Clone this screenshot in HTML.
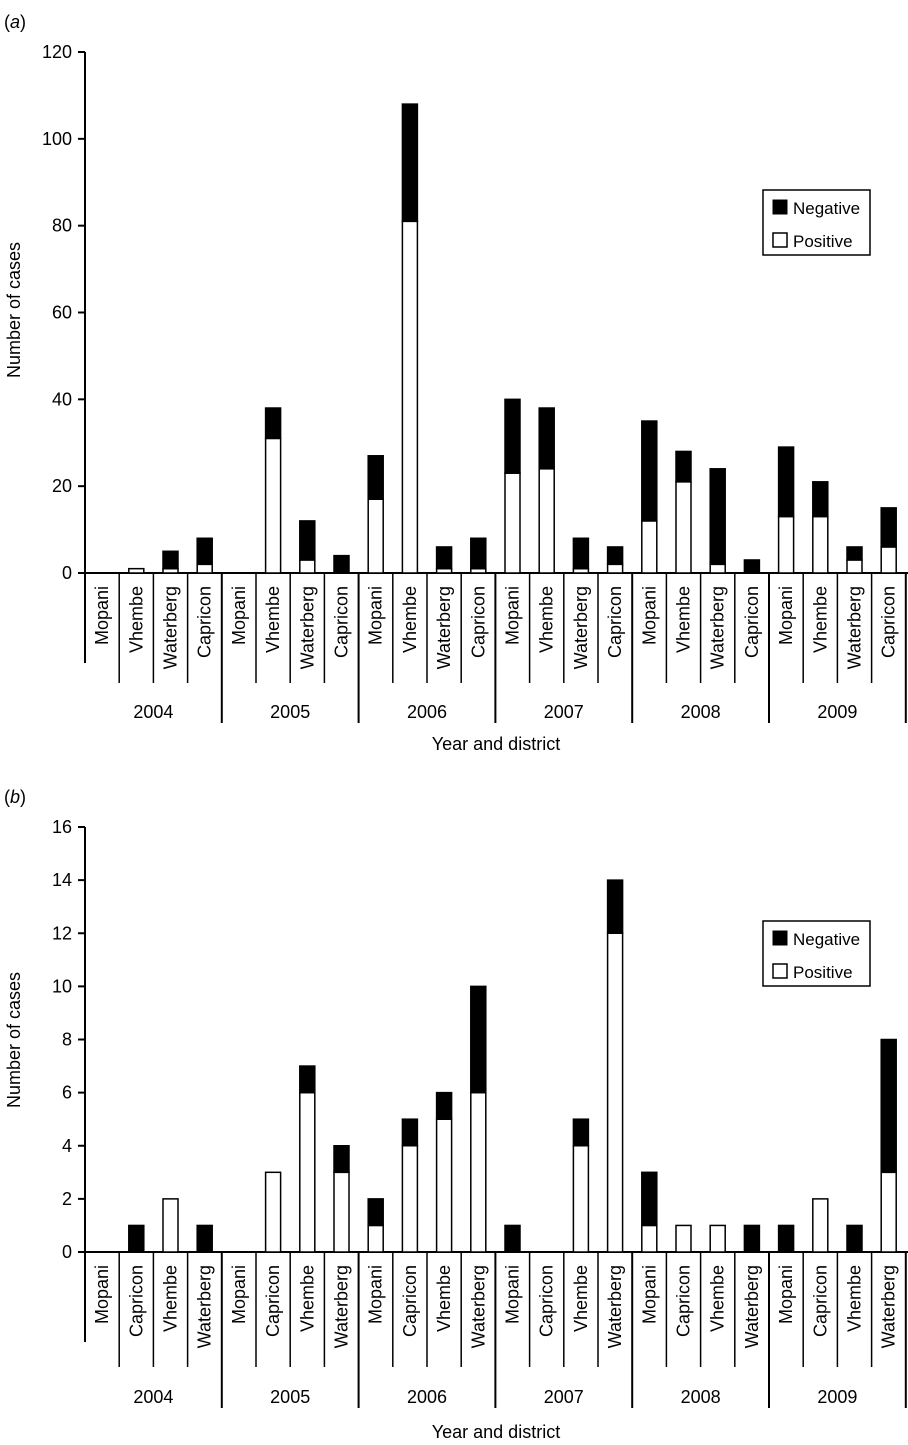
<!DOCTYPE html>
<html><head><meta charset="utf-8"><style>
body{margin:0;background:#fff}
svg{display:block;font-family:"Liberation Sans",Arial,sans-serif}
</style></head><body>
<svg id="s" width="908" height="1445" viewBox="0 0 908 1445"></svg>
<script>
const years=["2004","2005","2006","2007","2008","2009"];
const districtsA=["Mopani","Vhembe","Waterberg","Capricon"];
const positiveA=[0,1,1,2, 0,31,3,0, 17,81,1,1, 23,24,1,2, 12,21,2,0, 13,13,3,6];
const negativeA=[0,0,4,6, 0,7,9,4, 10,27,5,7, 17,14,7,4, 23,7,22,3, 16,8,3,9];
const ticksA=[0,20,40,60,80,100,120];
const districtsB=["Mopani","Capricon","Vhembe","Waterberg"];
const positiveB=[0,0,2,0, 0,3,6,3, 1,4,5,6, 0,0,4,12, 1,1,1,0, 0,2,0,3];
const negativeB=[0,1,0,1, 0,0,1,1, 1,1,1,4, 1,0,1,2, 2,0,0,1, 1,0,1,5];
const ticksB=[0,2,4,6,8,10,12,14,16];

const NS="http://www.w3.org/2000/svg";
const svg=document.getElementById('s');
function mk(tag,attrs,parent,text){const e=document.createElementNS(NS,tag);for(const k in attrs)e.setAttribute(k,attrs[k]);if(text!==undefined)e.textContent=text;(parent||svg).appendChild(e);return e;}

function chart(cfg){
  const g=mk('g',{});
  
  
  const x0=85,cw=34.2,y0=cfg.y0,yTop=cfg.yTop,max=cfg.max;
  const ys=v=>y0-(v/max)*(y0-yTop);
  const lab=mk('text',{x:4,y:yTop-24,'font-size':18},g);
  
  
  lab.innerHTML='(<tspan font-style="italic">'+cfg.panel+'</tspan>)';
  const ax=mk('line',{x1:x0,y1:yTop,x2:x0,y2:y0+90,stroke:'#000','stroke-width':2},g);
  
  
  cfg.ticks.forEach(t=>{
    const tk=mk('line',{x1:x0-7,y1:ys(t),x2:x0,y2:ys(t),stroke:'#000','stroke-width':2},g);
    
    
    const tl=mk('text',{x:x0-13,y:ys(t)+6,'font-size':18,'text-anchor':'end'},g,String(t));
    
    
  });
  const yt=mk('text',{x:0,y:0,'font-size':18,'text-anchor':'middle',transform:`translate(20,${cfg.titleY}) rotate(-90)`},g,'Number of cases');
  
  
  const xa=mk('line',{x1:x0,y1:y0,x2:908,y2:y0,stroke:'#000','stroke-width':2},g);
  
  
  const n=cfg.pos.length;
  for(let i=0;i<n;i++){
    const cx=x0+cw*(i+0.5);
    const sepX=x0+cw*(i+1);
    const isGroup=(i+1)%4===0;
    const sp=mk('line',{x1:sepX,y1:y0,x2:sepX,y2:y0+(isGroup?cfg.gLen:cfg.cLen),stroke:'#000','stroke-width':isGroup?2:1.5},g);
    
    
    const cl=mk('text',{x:0,y:0,'font-size':18,'text-anchor':'end',transform:`translate(${cx+6},${y0+13}) rotate(-90)`},g,cfg.districts[i%4]);
    
    
    const p=cfg.pos[i],ng=cfg.neg[i];
    if(p>0){
      const r=mk('rect',{x:cx-7.5,y:ys(p),width:15,height:y0-ys(p),fill:'#fff',stroke:'#000','stroke-width':1.5},g);
      
      
    }
    if(ng>0){
      const r=mk('rect',{x:cx-7.5,y:ys(p+ng),width:15,height:ys(p)-ys(p+ng),fill:'#000',stroke:'#000','stroke-width':1.5},g);
      
      
    }
  }
  years.forEach((yr,j)=>{
    const t=mk('text',{x:x0+cw*(4*j+2),y:y0+cfg.yearOff,'font-size':18,'text-anchor':'middle'},g,yr);
    
    
  });
  const xt=mk('text',{x:496,y:y0+cfg.titleOff,'font-size':18,'text-anchor':'middle'},g,'Year and district');
  
  
  const L=cfg.leg;
  const lg=mk('g',{},g);
  
  
  mk('rect',{x:763,y:L,width:107,height:65,fill:'#fff',stroke:'#000','stroke-width':1.5},lg);
  mk('rect',{x:773,y:L+10,width:14,height:14,fill:'#000',stroke:'#000'},lg);
  const e1=mk('text',{x:793,y:L+24,'font-size':17},lg,'Negative');
  
  
  mk('rect',{x:773,y:L+43,width:14,height:14,fill:'#fff',stroke:'#000','stroke-width':1.5},lg);
  const e2=mk('text',{x:793,y:L+57,'font-size':17},lg,'Positive');
  
  
}
chart({name:'chart-a',panel:'a',y0:573,yTop:52,max:120,ticks:ticksA,districts:districtsA,pos:positiveA,neg:negativeA,cLen:110,gLen:150,yearOff:145,titleOff:177,titleY:310,leg:190});
chart({name:'chart-b',panel:'b',y0:1252,yTop:827,max:16,ticks:ticksB,districts:districtsB,pos:positiveB,neg:negativeB,cLen:115,gLen:156,yearOff:151,titleOff:186,titleY:1040,leg:921});
</script>
</body></html>
